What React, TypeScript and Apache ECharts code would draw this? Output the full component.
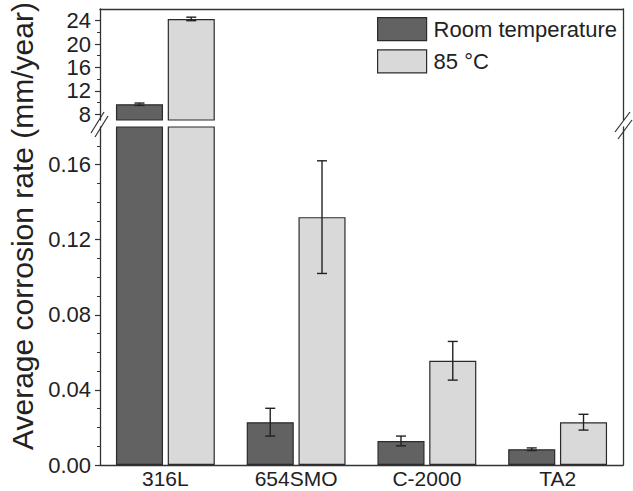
import React, { useEffect, useRef } from "react";
import * as echarts from "echarts";

const categories = ["316L", "654SMO", "C-2000", "TA2"];
const seriesNames = ["Room temperature", "85 °C"];
const roomTemp = [9.7, 0.0228, 0.0128, 0.0084];
const roomTempErr = [0.2, 0.0074, 0.0026, 0.0007];
const hot = [24.3, 0.132, 0.0555, 0.0228];
const hotErr = [0.3, 0.03, 0.0103, 0.0042];
const upperRange = [7, 26];
const lowerRange = [0, 0.18];
const upperTicks = [8, 12, 16, 20, 24];
const upperMinorTicks = [10, 14, 18, 22];
const lowerTicks = [0, 0.04, 0.08, 0.12, 0.16];
const lowerMinorTicks = [0.01, 0.02, 0.03, 0.05, 0.06, 0.07, 0.09, 0.1, 0.11, 0.13, 0.14, 0.15, 0.17];
const yTitle = "Average corrosion rate (mm/year)";

const FONT = "'Liberation Sans', Arial, sans-serif";
const INK = "#222";
const AXIS = "#333";
const DARK = "#626262";
const LIGHT = "#d9d9d9";
const BAR_W = 0.36;
const BAR_GAP = 0.1;
const FS = 22;

function errData(range: number[]) {
  const out: number[][] = [];
  const sets = [
    [roomTemp, roomTempErr],
    [hot, hotErr],
  ];
  sets.forEach(([vals, errs], s) => {
    vals.forEach((v, i) => {
      if (v > range[0] && v < range[1]) out.push([i, v, errs[i], s]);
    });
  });
  return out;
}

function renderErr(params: any, api: any) {
  const cat = api.value(0);
  const val = api.value(1);
  const err = api.value(2);
  const s = api.value(3);
  const band = api.size([1, 0])[0];
  const bw = band * BAR_W;
  const off = (s === 0 ? -1 : 1) * (bw * (1 + BAR_GAP)) / 2;
  const top = api.coord([cat, val + err]);
  const bot = api.coord([cat, val - err]);
  const x = top[0] + off;
  const cap = 5;
  const st = { stroke: INK, lineWidth: 1.4 };
  return {
    type: "group",
    children: [
      { type: "line", shape: { x1: x, y1: top[1], x2: x, y2: bot[1] }, style: st },
      { type: "line", shape: { x1: x - cap, y1: top[1], x2: x + cap, y2: top[1] }, style: st },
      { type: "line", shape: { x1: x - cap, y1: bot[1], x2: x + cap, y2: bot[1] }, style: st },
    ],
  };
}

export default function App() {
  const ref = useRef<HTMLDivElement>(null);
  useEffect(() => {
    document.body.style.margin = "0";
    if (!ref.current) return;
    const chart = echarts.init(ref.current, null, { renderer: "svg" });
    const axisLine = { show: true, lineStyle: { color: AXIS, width: 1.3 } };
    const barStyle = (c: string) => ({ color: c, borderColor: "#2b2b2b", borderWidth: 1.2 });
    const labelStyle = { fontSize: FS, color: INK, fontFamily: FONT };
    const option: any = {
      animation: false,
      textStyle: { fontFamily: FONT, fontSize: FS },
      grid: [
        { left: 100, right: 10, top: 9, height: 111, outerBoundsMode: "none" },
        { left: 100, right: 10, top: 127, height: 338, outerBoundsMode: "none" },
      ],
      legend: {
        data: seriesNames,
        orient: "vertical",
        left: 377,
        top: 17,
        padding: 0,
        itemWidth: 49,
        itemHeight: 23,
        itemGap: 8,
        icon: "rect",
        itemStyle: { borderWidth: 1.2, borderColor: "#2b2b2b" },
        textStyle: { fontSize: FS, color: INK, fontFamily: FONT, padding: [0, 0, 0, 2] },
      },
      xAxis: [
        {
          type: "category", gridIndex: 0, data: categories, position: "top",
          axisLine, axisTick: { show: false }, axisLabel: { show: false },
        },
        {
          type: "category", gridIndex: 1, data: categories, position: "bottom",
          axisLine, axisTick: { show: false },
          axisLabel: { fontSize: 21, color: INK, fontFamily: FONT, margin: 3 },
        },
      ],
      yAxis: [
        {
          type: "value", gridIndex: 0, min: upperRange[0], max: upperRange[1], position: "left",
          axisLine, splitLine: { show: false },
          axisTick: { show: true, inside: false, length: 5, customValues: upperTicks, lineStyle: { color: AXIS, width: 1.2 } },
          axisLabel: { ...labelStyle, customValues: upperTicks, margin: 9 },
        },
        {
          type: "value", gridIndex: 0, min: upperRange[0], max: upperRange[1], position: "left",
          axisLine: { show: false }, splitLine: { show: false }, axisLabel: { show: false },
          axisTick: { show: true, length: 3, customValues: upperMinorTicks, lineStyle: { color: AXIS, width: 1 } },
        },
        {
          type: "value", gridIndex: 0, min: upperRange[0], max: upperRange[1], position: "right",
          axisLine, splitLine: { show: false }, axisLabel: { show: false }, axisTick: { show: false },
        },
        {
          type: "value", gridIndex: 1, min: lowerRange[0], max: lowerRange[1], position: "left",
          axisLine, splitLine: { show: false },
          axisTick: { show: true, length: 5, customValues: lowerTicks, lineStyle: { color: AXIS, width: 1.2 } },
          axisLabel: {
            ...labelStyle, customValues: lowerTicks, margin: 9,
            formatter: (v: number) => v.toFixed(2),
          },
        },
        {
          type: "value", gridIndex: 1, min: lowerRange[0], max: lowerRange[1], position: "left",
          axisLine: { show: false }, splitLine: { show: false }, axisLabel: { show: false },
          axisTick: { show: true, length: 3, customValues: lowerMinorTicks, lineStyle: { color: AXIS, width: 1 } },
        },
        {
          type: "value", gridIndex: 1, min: lowerRange[0], max: lowerRange[1], position: "right",
          axisLine, splitLine: { show: false }, axisLabel: { show: false }, axisTick: { show: false },
        },
      ],
      series: [
        {
          name: seriesNames[0], type: "bar", xAxisIndex: 0, yAxisIndex: 0, data: roomTemp,
          barWidth: `${BAR_W * 100}%`, barGap: `${BAR_GAP * 100}%`, itemStyle: barStyle(DARK), clip: true,
        },
        {
          name: seriesNames[1], type: "bar", xAxisIndex: 0, yAxisIndex: 0, data: hot,
          barWidth: `${BAR_W * 100}%`, barGap: `${BAR_GAP * 100}%`, itemStyle: barStyle(LIGHT), clip: true,
        },
        {
          name: seriesNames[0], type: "bar", xAxisIndex: 1, yAxisIndex: 3, data: roomTemp,
          barWidth: `${BAR_W * 100}%`, barGap: `${BAR_GAP * 100}%`, itemStyle: barStyle(DARK), clip: true,
        },
        {
          name: seriesNames[1], type: "bar", xAxisIndex: 1, yAxisIndex: 3, data: hot,
          barWidth: `${BAR_W * 100}%`, barGap: `${BAR_GAP * 100}%`, itemStyle: barStyle(LIGHT), clip: true,
        },
        {
          name: "err-upper", type: "custom", xAxisIndex: 0, yAxisIndex: 0, z: 5,
          data: errData(upperRange), encode: { x: 0, y: 1 }, renderItem: renderErr,
        },
        {
          name: "err-lower", type: "custom", xAxisIndex: 1, yAxisIndex: 3, z: 5,
          data: errData(lowerRange), encode: { x: 0, y: 1 }, renderItem: renderErr,
        },
      ],
      graphic: [
        {
          type: "text", x: 22, y: 226, rotation: Math.PI / 2,
          style: { text: yTitle, fontSize: 30, fontFamily: FONT, fill: INK, textAlign: "center", textVerticalAlign: "middle" },
        },
        { type: "line", shape: { x1: 91, y1: 133, x2: 104, y2: 112 }, style: { stroke: AXIS, lineWidth: 1.2 }, z: 10 },
        { type: "line", shape: { x1: 95, y1: 137, x2: 108, y2: 116 }, style: { stroke: AXIS, lineWidth: 1.2 }, z: 10 },
        { type: "line", shape: { x1: 615, y1: 132, x2: 630, y2: 112 }, style: { stroke: AXIS, lineWidth: 1.2 }, z: 10 },
        { type: "line", shape: { x1: 618, y1: 139, x2: 632, y2: 120 }, style: { stroke: AXIS, lineWidth: 1.2 }, z: 10 },
      ],
    };
    chart.setOption(option);
    return () => chart.dispose();
  }, []);
  return <div ref={ref} style={{ width: 633, height: 491 }} />;
}
